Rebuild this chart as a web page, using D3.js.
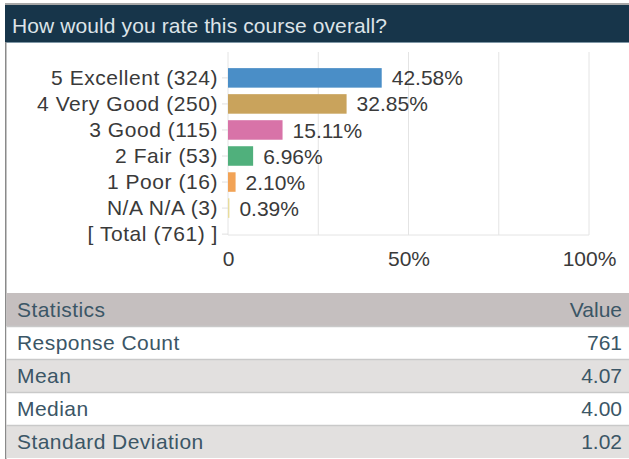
<!DOCTYPE html>
<html>
<head>
<meta charset="utf-8">
<script src="https://cdn.jsdelivr.net/npm/d3@7"></script>
<style>
  html, body { margin: 0; padding: 0; background: #fff; }
  svg { display: block; font-family: "Liberation Sans", Arial, Helvetica, sans-serif; }
</style>
</head>
<body>
<svg id="chart" width="629" height="459"></svg>
<script>
const title = "How would you rate this course overall?";
const categories = ["5 Excellent (324)", "4 Very Good (250)", "3 Good (115)", "2 Fair (53)", "1 Poor (16)", "N/A N/A (3)", "[ Total (761) ]"];
const percents = [42.58, 32.85, 15.11, 6.96, 2.10, 0.39];
const barColors = ["#4a8ec7", "#c9a35c", "#d873a8", "#50b07c", "#f2a356", "#e8dc9c"];
const gridTicks = [0, 25, 50, 75, 100];
const tickLabels = ["0", "50%", "100%"];
const tickLabelValues = [0, 50, 100];
const statHeaders = ["Statistics", "Value"];
const statNames = ["Response Count", "Mean", "Median", "Standard Deviation"];
const statValues = ["761", "4.07", "4.00", "1.02"];

const svg = d3.select("#chart");
const W = 629, H = 459;

// Header bar
svg.append("rect").attr("x", 0).attr("y", 0).attr("width", W).attr("height", H).attr("fill", "#fff");
svg.append("rect").attr("x", 5).attr("y", 3).attr("width", W - 5).attr("height", 2).attr("fill", "#a8a8a8");
svg.append("rect").attr("x", 5).attr("y", 5).attr("width", W - 5).attr("height", 37).attr("fill", "#17354a");
svg.append("rect").attr("x", 5).attr("y", 42).attr("width", W - 5).attr("height", 1).attr("fill", "#7f97a6");
svg.append("text").attr("x", 12).attr("y", 33)
  .attr("font-size", 21).attr("letter-spacing", 0.1).attr("fill", "#dce3e8").text(title);

// Left border
svg.append("rect").attr("x", 5).attr("y", 42).attr("width", 1.5).attr("height", H - 42).attr("fill", "#8a8a8a");

// Scales
const x = d3.scaleLinear().domain([0, 100]).range([228, 589]);
const y = d3.scaleBand().domain(categories).range([65, 247]).paddingInner(0.25).paddingOuter(0.12);
const plotTop = 52, plotBottom = 235;

// Grid
svg.append("g").selectAll("line").data(gridTicks).join("line")
  .attr("x1", d => x(d)).attr("x2", d => x(d))
  .attr("y1", plotTop).attr("y2", plotBottom)
  .attr("stroke", "#e4e4e4").attr("stroke-width", 1);
svg.append("line").attr("x1", x(0)).attr("x2", x(100)).attr("y1", plotBottom).attr("y2", plotBottom)
  .attr("stroke", "#e4e4e4");

// Y axis (category labels)
const yAxis = d3.axisLeft(y).tickSize(6).tickPadding(4);
const gy = svg.append("g").attr("transform", `translate(${x(0)},0)`).call(yAxis);
gy.select(".domain").remove();
gy.selectAll(".tick line").attr("stroke", "#e0e0e0");
gy.selectAll(".tick text").attr("font-size", 21).attr("fill", "#3a3a3a")
  .attr("letter-spacing", 0.55)
  .attr("font-family", "\"Liberation Sans\", Arial, sans-serif");

// Bars
const barData = percents.map((p, i) => ({ cat: categories[i], p, color: barColors[i] }));
svg.append("g").selectAll("rect").data(barData).join("rect")
  .attr("x", x(0)).attr("y", d => y(d.cat))
  .attr("width", d => Math.max(0.6, x(d.p) - x(0)))
  .attr("height", y.bandwidth())
  .attr("fill", d => d.color);

// Value labels
svg.append("g").selectAll("text").data(barData).join("text")
  .attr("x", d => x(d.p) + 10).attr("y", d => y(d.cat) + y.bandwidth() / 2)
  .attr("dy", "0.36em").attr("font-size", 21).attr("fill", "#3a3a3a")
  .text(d => d.p.toFixed(2) + "%");

// X axis labels
const xAxis = d3.axisBottom(x).tickValues(tickLabelValues).tickSize(0).tickPadding(16)
  .tickFormat((d, i) => tickLabels[i]);
const gx = svg.append("g").attr("transform", `translate(0,${plotBottom})`).call(xAxis);
gx.select(".domain").remove();
gx.selectAll(".tick text").attr("font-size", 21).attr("fill", "#3a3a3a")
  .attr("font-family", "\"Liberation Sans\", Arial, sans-serif");

// Statistics table
const rowY = d3.scaleBand().domain(d3.range(statNames.length + 1)).range([293, 458]);
const tableX0 = 6.5, tableX1 = W;
const rowFills = ["#c5bfbf", "#ffffff", "#e2e0df", "#ffffff", "#e2e0df"];
const rows = [statHeaders].concat(statNames.map((n, i) => [n, statValues[i]]));
const tg = svg.append("g");
tg.selectAll("rect").data(rows).join("rect")
  .attr("x", tableX0).attr("y", (d, i) => rowY(i))
  .attr("width", tableX1 - tableX0).attr("height", rowY.bandwidth())
  .attr("fill", (d, i) => rowFills[i]);
tg.selectAll("line").data(d3.range(1, rows.length)).join("line")
  .attr("x1", tableX0).attr("x2", tableX1)
  .attr("y1", i => rowY(i) + 0.5).attr("y2", i => rowY(i) + 0.5)
  .attr("stroke", "#c9c9c9").attr("stroke-width", 1.5);
tg.selectAll("text.name").data(rows).join("text").attr("class", "name")
  .attr("x", 17).attr("y", (d, i) => rowY(i) + rowY.bandwidth() / 2)
  .attr("dy", "0.36em").attr("font-size", 21).attr("letter-spacing", 0.45).attr("fill", "#3b5666")
  .text(d => d[0]);
tg.selectAll("text.val").data(rows).join("text").attr("class", "val")
  .attr("x", 622).attr("y", (d, i) => rowY(i) + rowY.bandwidth() / 2)
  .attr("dy", "0.36em").attr("text-anchor", "end").attr("font-size", 21).attr("fill", "#3b5666")
  .text(d => d[1]);
</script>
</body>
</html>
